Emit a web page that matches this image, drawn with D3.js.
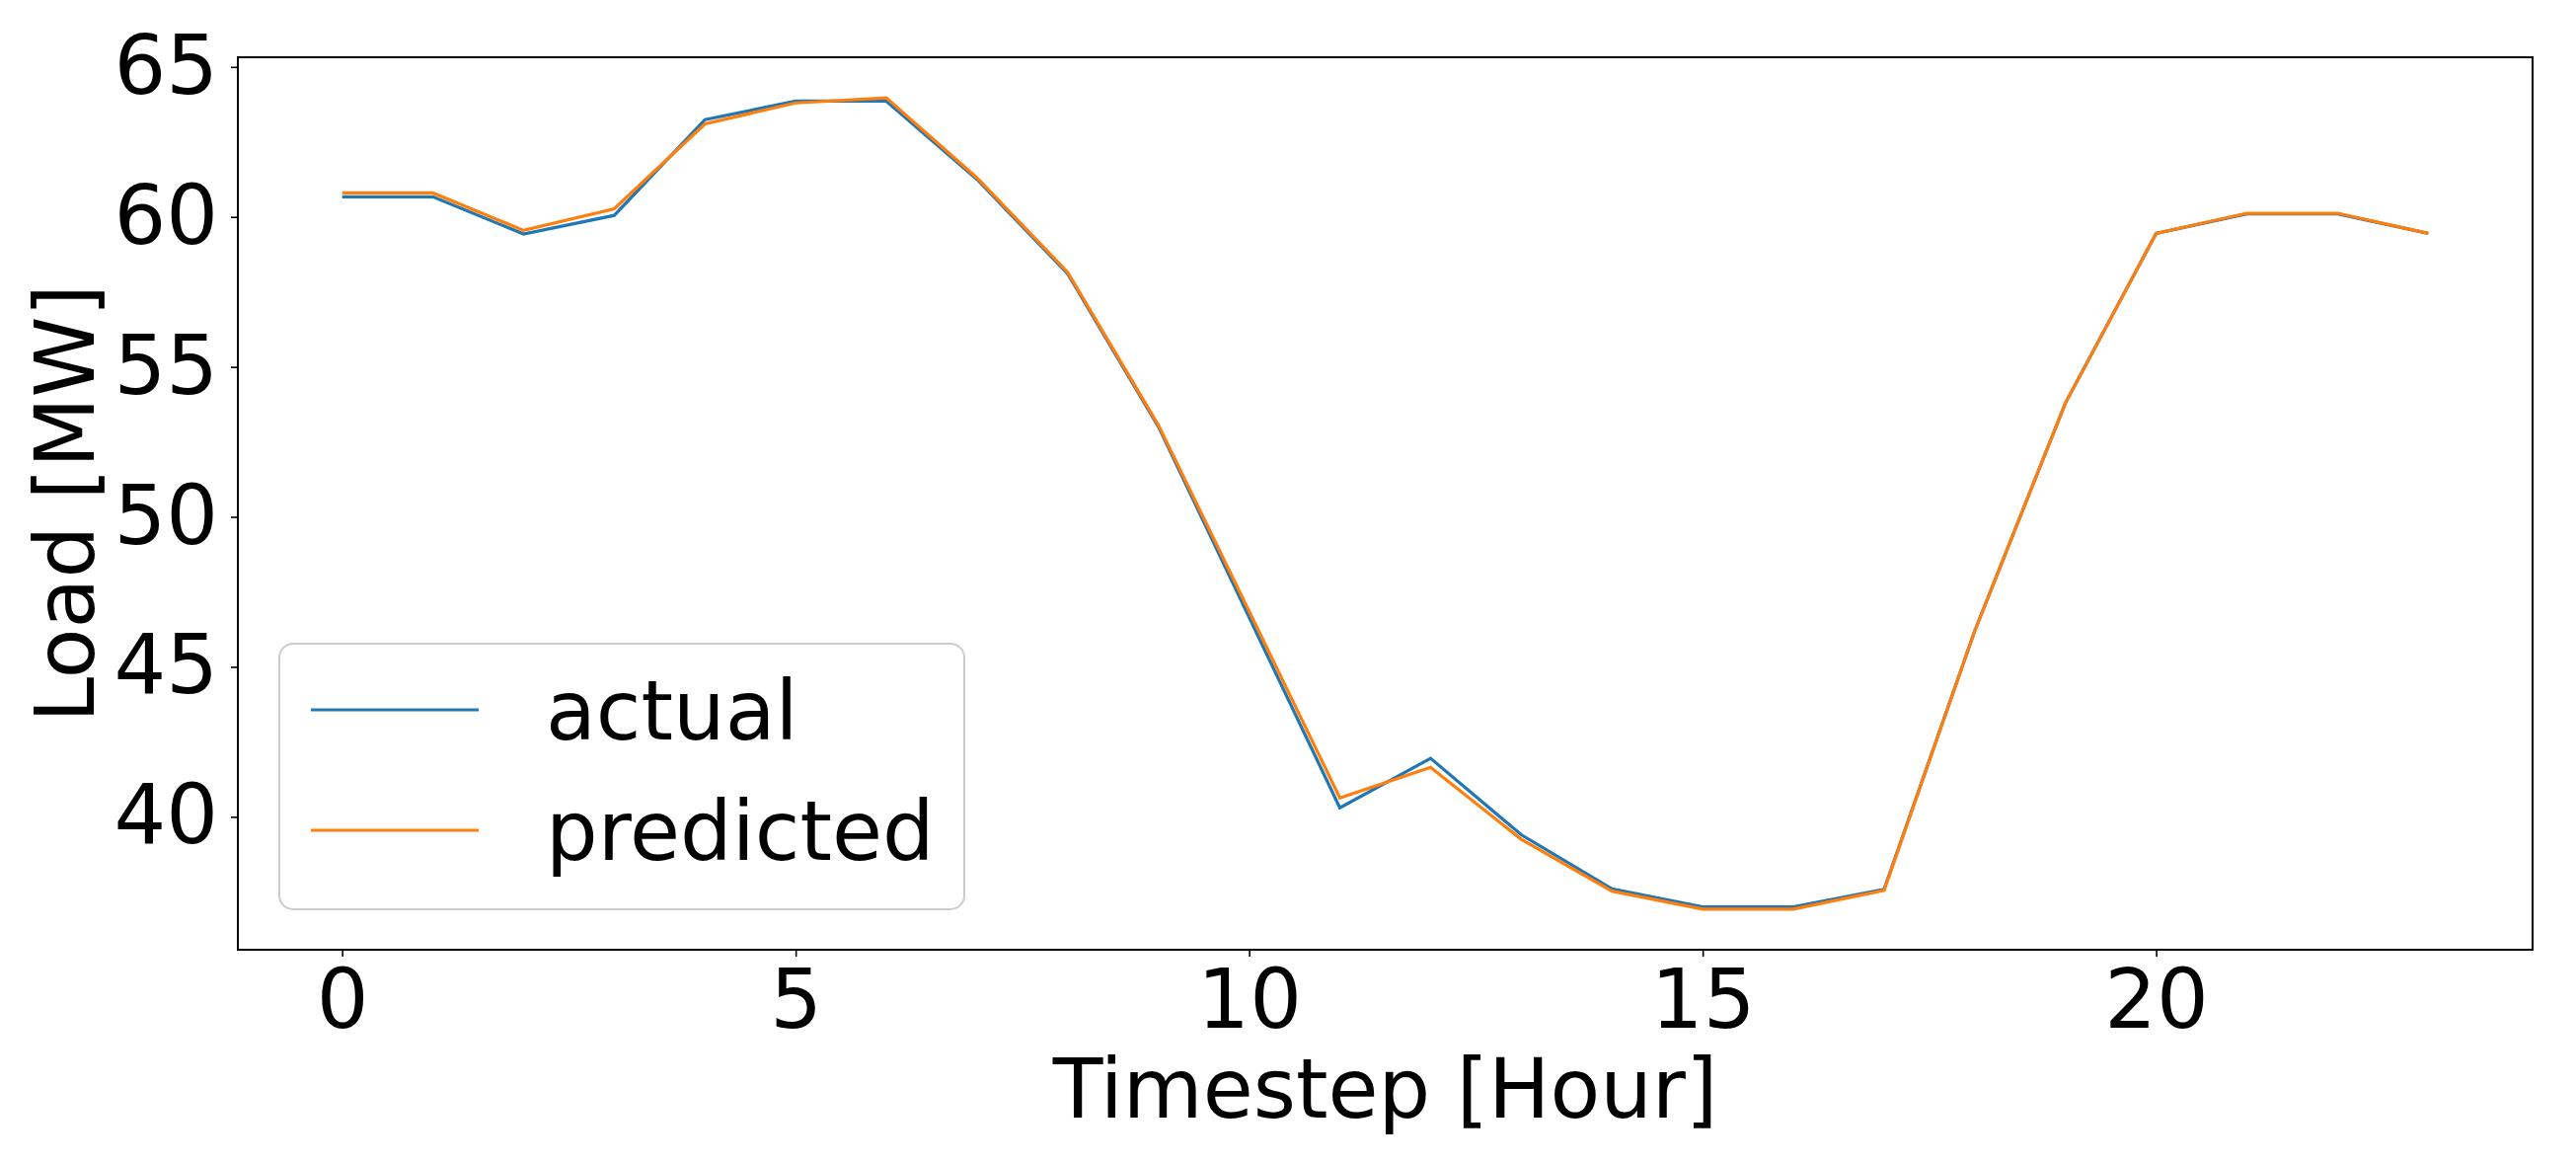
<!DOCTYPE html>
<html>
<head>
<meta charset="utf-8">
<script src="https://cdn.jsdelivr.net/npm/d3@7"></script>
<style>
  html, body { margin: 0; padding: 0; background: #fff; }
  svg { display: block; font-family: "DejaVu Sans", sans-serif; }
</style>
</head>
<body>
<svg id="chart" width="2610" height="1178"></svg>
<script>
const hours = d3.range(0, 24);
const actual = [60.67, 60.67, 59.43, 60.05, 63.24, 63.86, 63.86, 61.25, 58.1, 53.0, 46.65, 40.3,
                41.95, 39.4, 37.6, 37.0, 37.0, 37.58, 46.2, 53.8, 59.45, 60.1, 60.1, 59.45];
const predicted = [60.8, 60.8, 59.55, 60.27, 63.1, 63.8, 63.97, 61.3, 58.15, 53.05, 46.85, 40.63,
                   41.65, 39.25, 37.52, 36.92, 36.92, 37.55, 46.2, 53.8, 59.45, 60.12, 60.12, 59.45];
const seriesNames = ["actual", "predicted"];
const seriesColors = ["#1f77b4", "#ff7f0e"];
const xTicks = [0, 5, 10, 15, 20];
const yTicks = [40, 45, 50, 55, 60, 65];
const xLabel = "Timestep [Hour]";
const yLabel = "Load [MW]";

const W = 2610, H = 1178;
const m = { left: 241, right: 2566, top: 58, bottom: 962 };
const FS = 83;

const svg = d3.select("#chart");
svg.append("rect").attr("width", W).attr("height", H).attr("fill", "#fff");

// matplotlib-like 5% margins
const xMin = d3.min(hours), xMax = d3.max(hours);
const xPad = (xMax - xMin) * 0.05;
const allY = actual.concat(predicted);
const yMin = d3.min(allY), yMax = d3.max(allY);
const yPad = (yMax - yMin) * 0.05;

const x = d3.scaleLinear().domain([xMin - xPad, xMax + xPad]).range([m.left, m.right]);
const y = d3.scaleLinear().domain([yMin - yPad, yMax + yPad]).range([m.bottom, m.top]);

// lines
const line = d3.line().x((d, i) => x(hours[i])).y(d => y(d));
[actual, predicted].forEach((s, k) => {
  svg.append("path").datum(s)
    .attr("fill", "none")
    .attr("stroke", seriesColors[k])
    .attr("stroke-width", 3.2)
    .attr("stroke-linejoin", "miter")
    .attr("d", line);
});

// frame
svg.append("rect")
  .attr("x", m.left).attr("y", m.top)
  .attr("width", m.right - m.left).attr("height", m.bottom - m.top)
  .attr("fill", "none").attr("stroke", "#000").attr("stroke-width", 2);

// axes
const xAxis = svg.append("g").attr("transform", `translate(0,${m.bottom})`)
  .call(d3.axisBottom(x).tickValues(xTicks).tickSize(7).tickSizeOuter(0).tickPadding(13).tickFormat(d3.format("d")));
const yAxis = svg.append("g").attr("transform", `translate(${m.left},0)`)
  .call(d3.axisLeft(y).tickValues(yTicks).tickSize(7).tickSizeOuter(0).tickPadding(13).tickFormat(d3.format("d")));
[xAxis, yAxis].forEach(g => {
  g.select(".domain").remove();
  g.selectAll(".tick line").attr("stroke", "#000").attr("stroke-width", 1.6);
  g.selectAll(".tick text").attr("fill", "#000").attr("font-size", FS)
    .attr("font-family", "DejaVu Sans, sans-serif");
});

// axis labels
svg.append("text")
  .attr("x", (m.left + m.right) / 2).attr("y", 1132)
  .attr("text-anchor", "middle").attr("font-size", FS).attr("fill", "#000")
  .text(xLabel);
svg.append("text")
  .attr("transform", `translate(95,${(m.top + m.bottom) / 2}) rotate(-90)`)
  .attr("text-anchor", "middle").attr("font-size", FS).attr("fill", "#000")
  .text(yLabel);

// legend
const lg = svg.append("g");
lg.append("rect")
  .attr("x", 283).attr("y", 652).attr("width", 694).attr("height", 269)
  .attr("rx", 14).attr("ry", 14)
  .attr("fill", "#fff").attr("fill-opacity", 0.8)
  .attr("stroke", "#cccccc").attr("stroke-width", 2);
const legendY = [719, 841];
seriesNames.forEach((name, k) => {
  lg.append("line")
    .attr("x1", 315).attr("x2", 485)
    .attr("y1", legendY[k]).attr("y2", legendY[k])
    .attr("stroke", seriesColors[k]).attr("stroke-width", 3.2);
  lg.append("text")
    .attr("x", 553).attr("y", legendY[k]).attr("dy", "0.36em")
    .attr("font-size", FS).attr("fill", "#000")
    .text(name);
});
</script>
</body>
</html>
